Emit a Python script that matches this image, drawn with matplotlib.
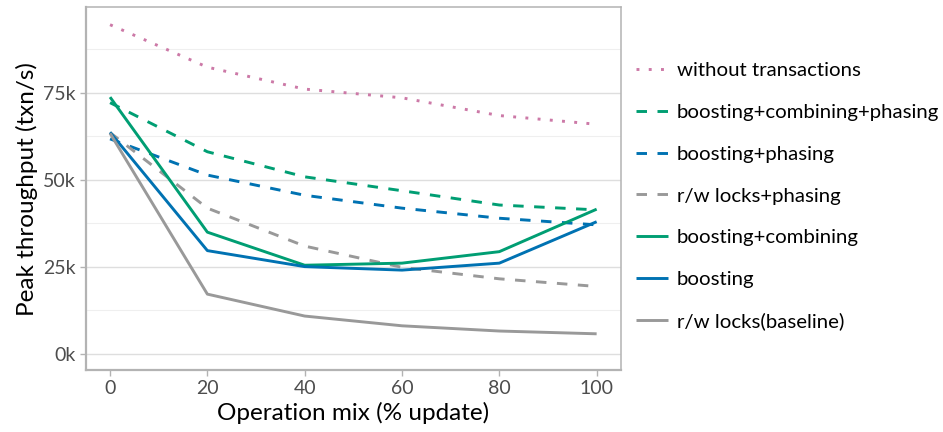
import matplotlib
matplotlib.use("Agg")
import matplotlib.pyplot as plt
from matplotlib.ticker import FuncFormatter, MultipleLocator

plt.rcParams['font.family'] = ['Lato', 'DejaVu Sans']

# operation mix (% update)
update_pct = [0, 20, 40, 60, 80, 100]

# peak throughput (txn/s)
without_tx = [94500, 82300, 76000, 73500, 68400, 65900]
boost_comb_phase = [72100, 58000, 50800, 46800, 42700, 41300]
boost_phase = [61700, 51300, 45500, 41800, 38900, 37000]
rw_phase = [63500, 41800, 30900, 24800, 21500, 19300]
boost_comb = [73700, 34900, 25400, 26000, 29300, 41500]
boost = [63600, 29600, 25000, 24000, 26000, 37900]
rw_baseline = [63300, 17100, 10800, 8000, 6500, 5700]

labels = ['without transactions', 'boosting+combining+phasing', 'boosting+phasing',
          'r/w locks+phasing', 'boosting+combining', 'boosting', 'r/w locks(baseline)']
series = [without_tx, boost_comb_phase, boost_phase, rw_phase, boost_comb, boost, rw_baseline]
colors = ['#CC79A7', '#009E73', '#0072B2', '#999999', '#009E73', '#0072B2', '#999999']
dotted = (0, (1, 3.2))
dashed = (0, (3.6, 3.6))
styles = [dotted, dashed, dashed, dashed, '-', '-', '-']

fig = plt.figure(figsize=(9.43, 4.32), dpi=100)
ax = fig.add_axes([0.0909, 0.1435, 0.5676, 0.8396])

for ys, lab, c, ls in zip(series, labels, colors, styles):
    ax.plot(update_pct, ys, color=c, linestyle=ls, linewidth=2.1, label=lab,
            dash_capstyle='butt', solid_capstyle='butt')

ax.set_xlim(-5, 105)
ax.set_ylim(-4700, 99500)
ax.set_xticks(update_pct)
ax.yaxis.set_major_locator(MultipleLocator(25000))
ax.yaxis.set_minor_locator(MultipleLocator(12500))
ax.yaxis.set_major_formatter(FuncFormatter(lambda v, p: '%dk' % round(v / 1000)))

ax.grid(axis='y', which='major', color='#dedede', linewidth=1.0)
ax.grid(axis='y', which='minor', color='#efefef', linewidth=0.8)
ax.set_axisbelow(True)

for s in ax.spines.values():
    s.set_color('#b3b3b3')
    s.set_linewidth(1.1)
ax.spines['left'].set_linewidth(1.6)
ax.spines['bottom'].set_linewidth(1.6)

ax.tick_params(axis='both', which='major', color='#b3b3b3', length=4, width=1.0,
               labelsize=14, labelcolor='#4d4d4d', pad=3)
ax.tick_params(axis='y', which='minor', length=0)

ax.set_xlabel('Operation mix (% update)', fontsize=17.5, color='black', labelpad=4)
ax.set_ylabel('Peak throughput (txn/s)', fontsize=17.5, color='black', labelpad=4)

ax.legend(loc='upper left', bbox_to_anchor=(1.012, 0.872), frameon=False,
          fontsize=14.7, handlelength=1.57, handletextpad=0.45, labelspacing=1.2,
          borderaxespad=0)

fig.savefig('out.png', dpi=100)
